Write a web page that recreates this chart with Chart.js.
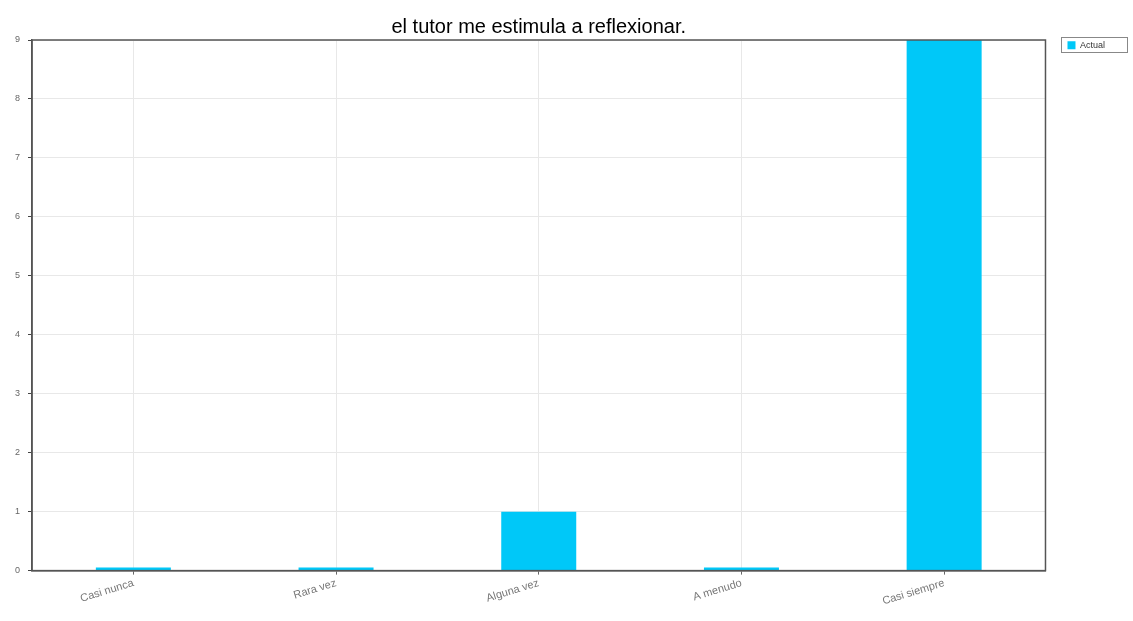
<!DOCTYPE html>
<html>
<head>
<meta charset="utf-8">
<script src="https://cdn.jsdelivr.net/npm/chart.js@4/dist/chart.umd.min.js"></script>
<style>
  body { margin: 0; background: #fff; }
  #wrap { width: 1133px; height: 621px; }
</style>
</head>
<body>
<div id="wrap"><canvas id="chart-area"></canvas></div>
<script>
var categories = ['Casi nunca', 'Rara vez', 'Alguna vez', 'A menudo', 'Casi siempre'];
var actual = [0, 0, 1, 0, 9];
var yTicks = [0, 1, 2, 3, 4, 5, 6, 7, 8, 9];

// box round the plot and round the legend
var frames = {
    id: 'frames',
    afterDraw: function (chart) {
        var ctx = chart.ctx;
        var a = chart.chartArea;
        ctx.save();
        ctx.strokeStyle = '#555';
        ctx.lineWidth = 1.5;
        ctx.strokeRect(a.left, a.top, a.right - a.left, a.bottom - a.top);
        var l = chart.legend;
        var h = l.legendHitBoxes[0];
        ctx.strokeStyle = '#888';
        ctx.lineWidth = 1;
        ctx.strokeRect(Math.round(h.left) - 5.5, Math.round(h.top) - 3.5, 66, 15);
        ctx.restore();
    }
};

var config = {
    type: 'bar',
    data: {
        labels: categories,
        datasets: [{
            label: 'Actual',
            data: actual,
            backgroundColor: '#00c8f8',
            barPercentage: 0.74,
            categoryPercentage: 0.5,
            minBarLength: 3
        }]
    },
    options: {
        responsive: true,
        maintainAspectRatio: false,
        animation: false,
        layout: { padding: { left: 7, right: 18, top: 0, bottom: 11 } },
        plugins: {
            title: {
                display: true,
                text: 'el tutor me estimula a reflexionar.',
                color: '#000',
                fullSize: false,
                font: { family: 'Liberation Sans', size: 20, weight: 'normal' },
                padding: { top: 15, bottom: 1 }
            },
            legend: {
                position: 'right',
                align: 'start',
                title: { display: true, text: ' ', padding: { top: 8, bottom: 0 }, font: { size: 9 } },
                labels: {
                    boxWidth: 8,
                    boxHeight: 8,
                    color: '#333',
                    padding: 22,
                    font: { family: 'Liberation Sans', size: 9 }
                }
            },
            tooltip: { enabled: false }
        },
        scales: {
            x: {
                grid: { offset: false, color: '#e8e8e8', drawTicks: true, tickLength: 4, tickColor: '#666' },
                border: { color: '#555', width: 1.5 },
                ticks: {
                    color: '#777',
                    minRotation: 17,
                    maxRotation: 17,
                    padding: 2,
                    font: { family: 'Liberation Sans', size: 11 }
                }
            },
            y: {
                min: 0,
                max: 9,
                afterBuildTicks: function (axis) {
                    axis.ticks = yTicks.map(function (v) { return { value: v }; });
                },
                grid: { color: '#e8e8e8', tickLength: 4, tickColor: '#444' },
                border: { color: '#555', width: 1.5 },
                ticks: {
                    color: '#666',
                    padding: 8,
                    font: { family: 'Liberation Sans', size: 9 }
                }
            }
        }
    },
    plugins: [frames]
};

var ctx = document.getElementById('chart-area').getContext('2d');
var myBar = new Chart(ctx, config);
</script>
</body>
</html>
